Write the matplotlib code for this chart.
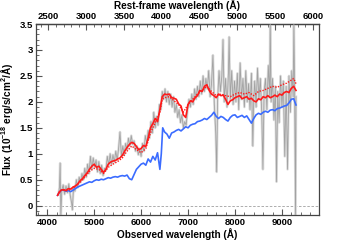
import numpy as np
import matplotlib
matplotlib.use("Agg")
import matplotlib.pyplot as plt
from matplotlib.ticker import MultipleLocator, FuncFormatter, FixedLocator

plt.rcParams['font.family'] = ['Liberation Sans', 'DejaVu Sans']
plt.rcParams['font.weight'] = 'bold'
plt.rcParams['mathtext.fontset'] = 'custom'
plt.rcParams['mathtext.bf'] = 'Liberation Sans:bold'
plt.rcParams['mathtext.rm'] = 'Liberation Sans:bold'
plt.rcParams['mathtext.default'] = 'bf'

redshift = 0.61
rest_ticks = [2500, 3000, 3500, 4000, 4500, 5000, 5500, 6000]

# observed spectrum (grey)
gray_wave = [4240, 4260, 4275, 4290, 4310, 4340, 4370, 4400, 4430, 4460,
             4490, 4520, 4535, 4560, 4590, 4620, 4650, 4680, 4710, 4740,
             4770, 4800, 4830, 4860, 4890, 4920, 4950, 4980, 5010, 5040,
             5070, 5100, 5130, 5160, 5190, 5220, 5250, 5280, 5310, 5340,
             5370, 5400, 5430, 5460, 5490, 5520, 5550, 5580, 5610, 5640,
             5670, 5700, 5730, 5760, 5790, 5820, 5850, 5880, 5910, 5940,
             5970, 6000, 6030, 6060, 6090, 6120, 6150, 6180, 6210, 6240,
             6270, 6300, 6330, 6360, 6390, 6420, 6450, 6480, 6510, 6540,
             6570, 6600, 6630, 6660, 6690, 6720, 6750, 6780, 6810, 6840,
             6870, 6900, 6930, 6960, 6990, 7020, 7050, 7080, 7110, 7140,
             7170, 7200, 7230, 7260, 7290, 7320, 7350, 7380, 7410, 7440,
             7470, 7500, 7530, 7560, 7590, 7610, 7630, 7660, 7690, 7720,
             7745, 7770, 7800, 7830, 7860, 7875, 7900, 7930, 7960, 7990,
             8020, 8050, 8080, 8110, 8140, 8170, 8200, 8230, 8260, 8290,
             8320, 8350, 8380, 8400, 8420, 8450, 8480, 8510, 8540, 8570,
             8595, 8620, 8650, 8680, 8710, 8740, 8750, 8770, 8800, 8830,
             8860, 8885, 8910, 8940, 8970, 9000, 9030, 9060, 9090, 9120,
             9150, 9180, 9210, 9240, 9255, 9270, 9290, 9300]
gray_flux = [0.22, 0.35, 0.82, -0.20, 0.30, 0.40, 0.22, 0.38, 0.25, 0.42,
             0.20, 0.05, -0.08, 0.35, 0.28, 0.50, 0.35, 0.55, 0.45, 0.62,
             0.50, 0.72, 0.55, 0.80, 0.62, 0.95, 0.70, 0.92, 0.75, 0.88,
             0.65, 0.85, 0.62, 0.78, 0.58, 0.72, 0.68, 0.95, 0.78, 1.00,
             0.80, 0.98, 0.84, 1.05, 0.88, 1.10, 1.42, 0.95, 1.15, 0.98,
             1.20, 1.08, 1.30, 1.15, 1.35, 1.18, 1.25, 1.05, 1.15, 0.98,
             1.10, 0.95, 1.20, 1.05, 1.35, 1.20, 1.45, 1.30, 1.62, 1.40,
             1.80, 1.50, 1.72, 1.55, 1.95, 1.85, 2.20, 2.05, 2.25, 2.00,
             2.20, 1.95, 2.15, 1.90, 2.10, 1.80, 1.95, 1.70, 1.85, 1.60,
             1.75, 1.50, 1.62, 1.55, 1.85, 2.05, 1.90, 2.15, 1.95, 2.25,
             2.05, 2.30, 2.10, 2.40, 2.15, 2.50, 2.20, 2.45, 2.25, 2.60,
             2.10, 2.35, 2.90, 1.95, 1.40, 0.65, 2.05, 2.60, 2.20, 2.50,
             3.20, 2.00, 2.45, 1.90, 2.55, 3.25, 2.05, 2.60, 1.95, 2.40,
             2.00, 2.55, 1.85, 2.75, 2.05, 2.45, 1.90, 2.60, 2.00, 2.35,
             1.85, 2.55, 1.15, 2.05, 2.40, 1.90, 2.65, 2.05, 2.45, 1.80,
             0.70, 2.20, 2.45, 1.85, 2.70, 2.10, 3.60, 2.00, 2.45, 1.65,
             2.30, 0.46, 2.20, 1.60, 2.50, 1.90, 2.40, 0.95, 2.30, 0.70,
             2.50, 1.80, 2.60, 2.10, 3.60, 2.30, -0.20, 2.10]

# red model (solid)
red_wave = [4220, 4260, 4300, 4350, 4400, 4450, 4500, 4550, 4600, 4650,
            4700, 4750, 4800, 4850, 4900, 4950, 5000, 5050, 5100, 5150,
            5200, 5250, 5300, 5350, 5400, 5450, 5500, 5550, 5600, 5650,
            5700, 5750, 5800, 5850, 5900, 5950, 6000, 6050, 6100, 6150,
            6200, 6250, 6300, 6350, 6400, 6450, 6500, 6550, 6600, 6650,
            6700, 6750, 6800, 6850, 6900, 6950, 7000, 7050, 7100, 7150,
            7200, 7250, 7300, 7350, 7400, 7450, 7500, 7550, 7600, 7650,
            7700, 7750, 7800, 7850, 7900, 7950, 8000, 8050, 8100, 8150,
            8200, 8250, 8300, 8350, 8400, 8450, 8500, 8550, 8600, 8650,
            8700, 8750, 8800, 8850, 8900, 8950, 9000, 9050, 9100, 9150,
            9200, 9250, 9300]
red_flux = [0.20, 0.27, 0.30, 0.31, 0.29, 0.33, 0.32, 0.36, 0.38, 0.42,
            0.48, 0.52, 0.58, 0.63, 0.70, 0.76, 0.80, 0.74, 0.76, 0.70,
            0.64, 0.70, 0.80, 0.84, 0.86, 0.87, 0.90, 0.92, 0.97, 1.05,
            1.12, 1.18, 1.22, 1.20, 1.14, 1.08, 1.10, 1.16, 1.14, 1.30,
            1.50, 1.58, 1.68, 1.62, 1.85, 2.10, 2.15, 2.14, 2.15, 2.08,
            2.07, 2.05, 1.96, 1.92, 1.75, 1.70, 1.95, 2.02, 2.00, 2.08,
            2.12, 2.22, 2.20, 2.30, 2.33, 2.22, 2.15, 2.12, 2.08, 2.15,
            2.12, 2.13, 2.05, 1.95, 2.02, 2.04, 2.08, 2.10, 2.12, 2.06,
            2.08, 2.10, 2.05, 2.07, 2.02, 2.00, 2.06, 2.04, 2.10, 2.08,
            2.12, 2.08, 2.10, 2.13, 2.10, 2.15, 2.13, 2.18, 2.20, 2.18,
            2.26, 2.30, 2.22]

# red model (dotted)
reddot_wave = [4220, 4300, 4400, 4500, 4600, 4700, 4800, 4900, 5000,
               5100, 5200, 5300, 5400, 5500, 5600, 5700, 5800, 5900, 6000,
               6100, 6200, 6300, 6400, 6450, 6500,
               6600, 6700, 6800, 6900, 7000, 7100, 7200, 7300, 7400, 7500,
               7600, 7700, 7800, 7900, 8000, 8100, 8200, 8300, 8400, 8500,
               8600, 8700, 8800, 8900, 9000, 9100, 9200, 9250, 9300]
reddot_flux = [0.20, 0.30, 0.29, 0.31, 0.37, 0.45, 0.55, 0.66, 0.72,
               0.70, 0.62, 0.74, 0.80, 0.85, 0.92, 1.05, 1.15, 1.08, 1.02,
               1.10, 1.40, 1.60, 1.80, 2.05, 2.08,
               2.10, 2.02, 1.95, 1.80, 1.95, 2.05, 2.15, 2.22, 2.30, 2.20,
               2.12, 2.15, 2.12, 2.10, 2.15, 2.18, 2.15, 2.18, 2.12, 2.20,
               2.22, 2.26, 2.30, 2.28, 2.33, 2.36, 2.42, 2.45, 2.35]

# blue model
blue_wave = [4220, 4260, 4300, 4350, 4400, 4450, 4500, 4550, 4600, 4650,
             4700, 4750, 4800, 4850, 4900, 4950, 5000, 5050, 5100, 5150,
             5200, 5250, 5300, 5350, 5400, 5450, 5500, 5550, 5600, 5650,
             5700, 5750, 5800, 5850, 5900, 5950, 6000, 6050, 6100, 6150,
             6200, 6250, 6300, 6350, 6400, 6430, 6460, 6500, 6550, 6600,
             6650, 6700, 6750, 6800, 6850, 6900, 6950, 7000, 7050, 7100,
             7150, 7200, 7250, 7300, 7350, 7400, 7450, 7500, 7550, 7600,
             7650, 7700, 7750, 7800, 7850, 7900, 7950, 8000, 8050, 8100,
             8150, 8200, 8250, 8300, 8350, 8400, 8450, 8500, 8550, 8600,
             8650, 8700, 8750, 8800, 8850, 8900, 8950, 9000, 9050, 9100,
             9150, 9200, 9250, 9300]
blue_flux = [0.20, 0.26, 0.30, 0.30, 0.28, 0.29, 0.27, 0.30, 0.33, 0.36,
             0.38, 0.40, 0.42, 0.44, 0.46, 0.45, 0.48, 0.50, 0.49, 0.51,
             0.50, 0.52, 0.54, 0.53, 0.55, 0.56, 0.55, 0.57, 0.58, 0.57,
             0.59, 0.52, 0.50, 0.60, 0.70, 0.75, 0.80, 0.82, 0.78, 0.90,
             0.84, 0.95, 0.88, 1.02, 0.70, 1.00, 1.50, 1.42, 1.38, 1.30,
             1.40, 1.42, 1.45, 1.47, 1.44, 1.48, 1.52, 1.50, 1.55, 1.57,
             1.58, 1.62, 1.63, 1.65, 1.68, 1.66, 1.70, 1.74, 1.80, 1.72,
             1.68, 1.72, 1.70, 1.66, 1.63, 1.70, 1.74, 1.75, 1.70, 1.72,
             1.74, 1.70, 1.73, 1.66, 1.59, 1.68, 1.75, 1.78, 1.76, 1.80,
             1.82, 1.80, 1.84, 1.85, 1.83, 1.87, 1.88, 1.90, 1.92, 1.93,
             1.98, 2.05, 2.06, 1.94]

fig = plt.figure(figsize=(3.55, 2.40), dpi=100)
ax = fig.add_axes([0.100, 0.104, 0.7986, 0.796])

ax.axhline(0, color='#a0a0a0', lw=0.6, ls=(0, (3, 2)), zorder=1)
ax.plot(gray_wave, gray_flux, color='#dcdcdc', lw=1.8, zorder=2, solid_joinstyle='round')
ax.plot(gray_wave, gray_flux, color='#a2a2a2', lw=0.6, zorder=3)
ax.plot(blue_wave, blue_flux, color='#3b6cff', lw=1.2, zorder=4)
ax.plot(red_wave, red_flux, color='#ff1a1a', lw=1.2, zorder=5)
ax.plot(reddot_wave, reddot_flux, color='#ff1a1a', lw=1.0, ls=(0, (1, 1)), zorder=6)

ax.set_xlim(3750, 9790)
ax.set_ylim(-0.18, 3.5)

fs = 6.8
ax.xaxis.set_major_locator(MultipleLocator(1000))
ax.xaxis.set_minor_locator(MultipleLocator(200))
ax.yaxis.set_major_locator(MultipleLocator(0.5))
ax.yaxis.set_minor_locator(MultipleLocator(0.1))
ax.yaxis.set_major_formatter(FuncFormatter(lambda v, p: '%g' % v))
ax.tick_params(which='both', direction='in', top=False, right=False,
               labelsize=fs, color='#555555', pad=2)
ax.tick_params(which='major', length=4, width=0.8)
ax.tick_params(which='minor', length=2, width=0.6)
for s in ax.spines.values():
    s.set_linewidth(0.9)
    s.set_color('#444444')

sec = ax.secondary_xaxis('top', functions=(lambda x: x / (1 + redshift),
                                          lambda x: x * (1 + redshift)))
sec.xaxis.set_major_locator(FixedLocator(rest_ticks))
sec.xaxis.set_minor_locator(MultipleLocator(100))
sec.tick_params(which='both', direction='in', labelsize=fs, color='#555555', pad=2)
sec.tick_params(which='major', length=4, width=0.8)
sec.tick_params(which='minor', length=2, width=0.6)
sec.spines['top'].set_linewidth(0.9)
sec.spines['top'].set_color('#444444')
sec.set_xlabel('Rest-frame wavelength (Å)', fontsize=7.2, fontweight='bold', labelpad=2)

ax.set_xlabel('Observed wavelength (Å)', fontsize=7.2, fontweight='bold', labelpad=1)
ax.set_ylabel(r'Flux (10$^{-18}$ erg/s/cm$^{2}$/Å)', fontsize=7.2, fontweight='bold', labelpad=3)

for lab in ax.get_xticklabels() + ax.get_yticklabels() + sec.get_xticklabels():
    lab.set_fontweight('bold')

fig.savefig('out.png', dpi=100)
